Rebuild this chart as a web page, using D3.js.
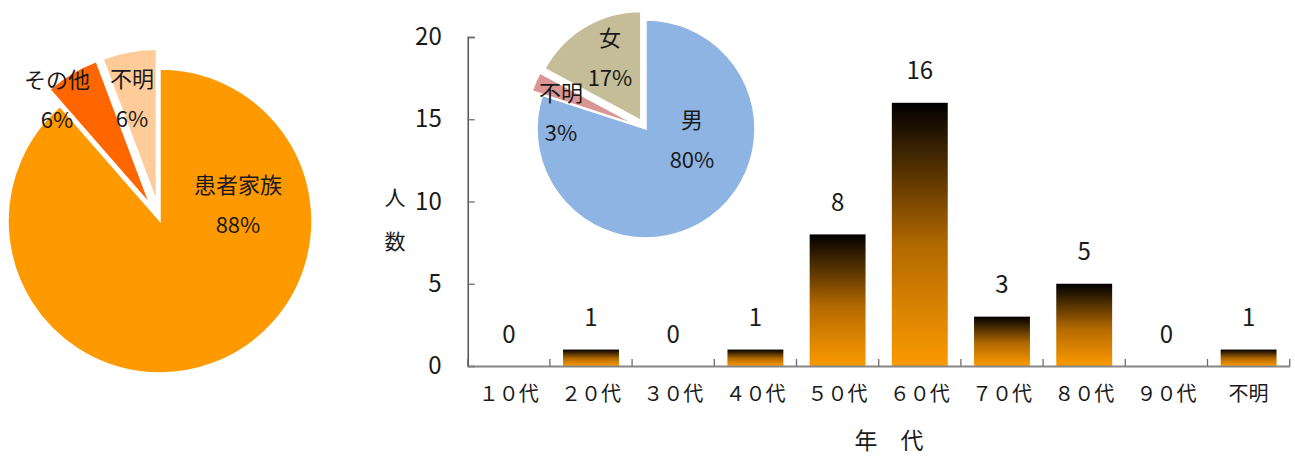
<!DOCTYPE html>
<html lang="ja">
<head>
<meta charset="utf-8">
<script src="https://cdn.jsdelivr.net/npm/d3@7"></script>
<style>
  html, body { margin: 0; padding: 0; background: #fff; }
  svg { display: block; font-family: "Noto Sans CJK JP", "Noto Sans", sans-serif; }
</style>
</head>
<body>
<svg id="chart" width="1295" height="459"></svg>
<script>
// 年代別人数
const ageCategories = ["１０代", "２０代", "３０代", "４０代", "５０代", "６０代", "７０代", "８０代", "９０代", "不明"];
const ageCounts = [0, 1, 0, 1, 8, 16, 3, 5, 0, 1];
const yTicks = [0, 5, 10, 15, 20];

// 続柄（左の円グラフ）
const relationLabels = ["患者家族", "その他", "不明"];
const relationCounts = [31, 2, 2];
const relationPercents = ["88%", "6%", "6%"];

// 性別（右の円グラフ）
const sexLabels = ["男", "不明", "女"];
const sexCounts = [28, 1, 6];
const sexPercents = ["80%", "3%", "17%"];

const svg = d3.select("#chart");
const textColor = "#1a1a1a";

// ---------- 棒グラフ ----------
const plot = { left: 467.7, right: 1289.7, top: 37, bottom: 366 };

const x = d3.scaleBand()
  .domain(ageCategories)
  .range([plot.left, plot.right])
  .paddingInner(0.32)
  .paddingOuter(0.16);

const y = d3.scaleLinear()
  .domain([0, 20])
  .range([plot.bottom, plot.top]);

// 棒のグラデーション（上：黒 → 下：オレンジ）
const defs = svg.append("defs");
const grad = defs.append("linearGradient")
  .attr("id", "barGrad")
  .attr("x1", 0).attr("y1", 0).attr("x2", 0).attr("y2", 1);
grad.append("stop").attr("offset", "0%").attr("stop-color", "#000000");
grad.append("stop").attr("offset", "55%").attr("stop-color", "#b46a00");
grad.append("stop").attr("offset", "100%").attr("stop-color", "#fb9a00");

// Y軸（目盛りは内向き）
const yAxis = d3.axisLeft(y)
  .tickValues(yTicks)
  .tickSize(-7)
  .tickPadding(26);
const gy = svg.append("g")
  .attr("transform", `translate(${plot.left},0)`)
  .call(yAxis);
gy.select(".domain").attr("stroke", "#3a3a3a").attr("stroke-width", 1.3);
gy.selectAll(".tick line").attr("stroke", "#6e6e6e").attr("stroke-width", 1.3);
gy.selectAll(".tick text")
  .attr("font-size", 24)
  .attr("fill", textColor)
  .attr("font-family", "'Noto Sans CJK JP', sans-serif");

// 棒
svg.append("g")
  .selectAll("rect")
  .data(ageCounts)
  .join("rect")
  .attr("x", (d, i) => x(ageCategories[i]))
  .attr("y", d => y(d))
  .attr("width", x.bandwidth())
  .attr("height", d => y(0) - y(d))
  .attr("fill", "url(#barGrad)");

// X軸（ラベルは中央、目盛りは区切り位置）
const xAxis = d3.axisBottom(x).tickSize(0).tickPadding(21);
const gx = svg.append("g")
  .attr("transform", `translate(0,${plot.bottom})`)
  .call(xAxis);
gx.select(".domain").attr("stroke", "#868686").attr("stroke-width", 2);
gx.selectAll(".tick text")
  .attr("font-size", 20)
  .attr("fill", textColor)
  .attr("font-family", "'Noto Sans CJK JP', sans-serif");

const step = x.step();
const boundaries = d3.range(ageCategories.length + 1).map(i => plot.left + i * step);
gx.append("g")
  .selectAll("line")
  .data(boundaries)
  .join("line")
  .attr("x1", d => d).attr("x2", d => d)
  .attr("y1", 0).attr("y2", -7)
  .attr("stroke", "#6e6e6e")
  .attr("stroke-width", 1.3);

// 値ラベル
svg.append("g")
  .selectAll("text")
  .data(ageCounts)
  .join("text")
  .attr("x", (d, i) => x(ageCategories[i]) + x.bandwidth() / 2)
  .attr("y", d => y(d) - 34)
  .attr("text-anchor", "middle")
  .attr("dominant-baseline", "central")
  .attr("font-size", 24)
  .attr("fill", textColor)
  .text(d => d);

// 軸タイトル
const yTitle = svg.append("text")
  .attr("text-anchor", "middle")
  .attr("font-size", 21)
  .attr("fill", textColor);
yTitle.append("tspan").attr("x", 395).attr("y", 205).text("人");
yTitle.append("tspan").attr("x", 395).attr("y", 249).text("数");

svg.append("text")
  .attr("x", 889)
  .attr("y", 449)
  .attr("text-anchor", "middle")
  .attr("font-size", 23)
  .attr("fill", textColor)
  .text("年\u3000代");

// ---------- 円グラフ ----------
function drawPie(cfg) {
  const pie = d3.pie().sort(null).value(d => d)(cfg.values);
  const arc = d3.arc().innerRadius(0).outerRadius(cfg.radius);
  const g = svg.append("g").attr("transform", `translate(${cfg.cx},${cfg.cy})`);

  g.selectAll("path")
    .data(pie)
    .join("path")
    .attr("d", arc)
    .attr("fill", (d, i) => cfg.colors[i])
    .attr("stroke", "#ffffff")
    .attr("stroke-width", 1.5)
    .attr("transform", (d, i) => {
      const off = cfg.explode[i];
      const mid = (d.startAngle + d.endAngle) / 2;
      return `translate(${off * Math.sin(mid)},${-off * Math.cos(mid)})`;
    });

  const lg = g.selectAll("g.lbl")
    .data(pie)
    .join("g")
    .attr("class", "lbl")
    .attr("transform", (d, i) => `translate(${cfg.labelPos[i][0]},${cfg.labelPos[i][1]})`);
  lg.append("text")
    .attr("y", -20)
    .attr("text-anchor", "middle")
    .attr("dominant-baseline", "central")
    .attr("font-size", 22)
    .attr("fill", textColor)
    .text((d, i) => cfg.labels[i]);
  lg.append("text")
    .attr("y", 20)
    .attr("text-anchor", "middle")
    .attr("dominant-baseline", "central")
    .attr("font-size", 22)
    .attr("fill", textColor)
    .text((d, i) => cfg.percents[i]);
}

drawPie({
  values: relationCounts,
  labels: relationLabels,
  percents: relationPercents,
  colors: ["#ff9900", "#ff6600", "#ffcc99"],
  explode: [0, 20, 20],
  cx: 160, cy: 221, radius: 152,
  labelPos: [[78, -18], [-103, -123], [-28, -124]]
});

drawPie({
  values: sexCounts,
  labels: sexLabels,
  percents: sexPercents,
  colors: ["#8eb4e3", "#d99694", "#c4bd97"],
  explode: [0, 11, 10],
  cx: 646, cy: 129, radius: 109,
  labelPos: [[46, 9], [-85, -18], [-36, -73]]
});
</script>
</body>
</html>
